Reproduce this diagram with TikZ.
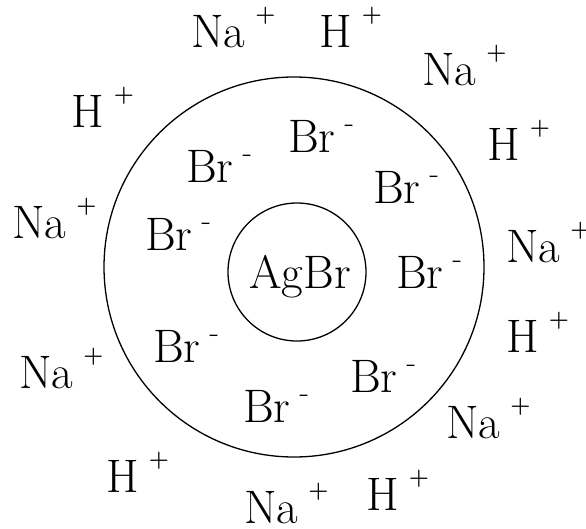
\documentclass[tikz,border=0pt]{standalone}
\usepackage{tikz}
\usetikzlibrary{positioning}
\newcommand{\cation}[1]{#1\hspace{10pt}\raisebox{25.5pt}{\fontsize{23}{23}\selectfont\bfseries +}}
\newcommand{\anion}[1]{#1\hspace{9pt}\raisebox{20pt}{\fontsize{31}{31}\selectfont -}}
\begin{document}
\begin{tikzpicture}[x = 1pt, y = -1pt]
  \tikzset{ion/.style = {inner sep = 0pt, anchor = base west, font = \fontsize{47}{47}\selectfont},
    shell/.style = {draw, circle, line width = 1.3pt, inner sep = 0pt}}
  \useasboundingbox (0,0) rectangle (586,528);

  \node[shell, minimum size = 380pt] (outer) at (294,267) {};
  \node[shell, minimum size = 138pt] (inner) at (297,272) {};
  \node[ion] (AgBr) at (249,288) {AgBr};

  % bromide layer
  \node[ion] (Bra) at (186,182) {\anion{Br}};
  \node[ion] (Brb) at (288,152) {\anion{Br}};
  \node[ion] (Brc) at (373,203) {\anion{Br}};
  \node[ion] (Brd) at (145,250) {\anion{Br}};
  \node[ion] (Bre) at (396,288) {\anion{Br}};
  \node[ion] (Brf) at (153,362) {\anion{Br}};
  \node[ion] (Brg) at (350,392) {\anion{Br}};
  \node[ion] (Brh) at (243,422) {\anion{Br}};

  % counter ions
  \node[ion] (Naa) at (191,47) {\cation{Na}};
  \node[ion] (Ha) at (319,47) {\cation{H}};
  \node[ion] (Nab) at (422,85) {\cation{Na}};
  \node[ion] (Hb) at (71,127) {\cation{H}};
  \node[ion] (Hc) at (487,160) {\cation{H}};
  \node[ion] (Nac) at (12,238) {\cation{Na}};
  \node[ion] (Nad) at (506,262) {\cation{Na}};
  \node[ion] (Hd) at (506,352) {\cation{H}};
  \node[ion] (Nae) at (19,388) {\cation{Na}};
  \node[ion] (Naf) at (446,438) {\cation{Na}};
  \node[ion] (He) at (106,492) {\cation{H}};
  \node[ion] (Nag) at (244,523) {\cation{Na}};
  \node[ion] (Hf) at (366,510) {\cation{H}};
\end{tikzpicture}
\end{document}
